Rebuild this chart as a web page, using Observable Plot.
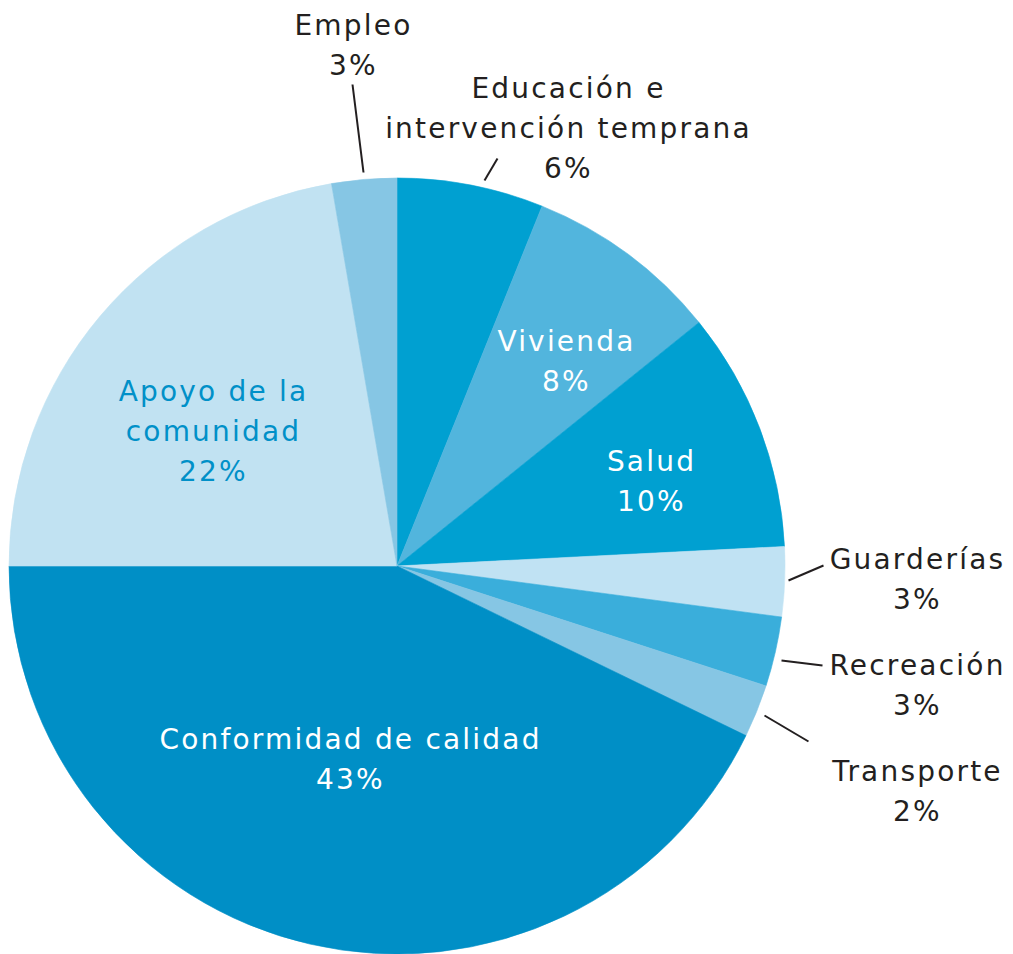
<!DOCTYPE html>
<html>
<head>
<meta charset="utf-8">
<script src="https://cdn.jsdelivr.net/npm/d3@7"></script>
<script src="https://cdn.jsdelivr.net/npm/@observablehq/plot@0.6"></script>
<style>
  html, body { margin: 0; padding: 0; background: #fff; }
  #chart svg { display: block; }
  #chart text { letter-spacing: 2.2px; }
</style>
</head>
<body>
<div id="chart"></div>
<script>
// ---- data ----
const categories = ["Educación e intervención temprana", "Vivienda", "Salud", "Guarderías", "Recreación", "Transporte", "Conformidad de calidad", "Apoyo de la comunidad", "Empleo"];
const displayNames = ["Educación e\nintervención temprana", "Vivienda", "Salud", "Guarderías", "Recreación", "Transporte", "Conformidad de calidad", "Apoyo de la\ncomunidad", "Empleo"];
const shares = [6.1, 8.1, 10.0, 2.9, 2.9, 2.2, 42.8, 22.3, 2.7];
const shareLabels = ["6%", "8%", "10%", "3%", "3%", "2%", "43%", "22%", "3%"];

// ---- styles / layout ----
const sliceColors = ["#00a0d1", "#52b5dd", "#00a0d1", "#c0e2f3", "#3aaedb", "#86c6e4", "#008fc6", "#c1e2f2", "#86c6e4"];
const labelColors = ["#231f20", "#ffffff", "#ffffff", "#231f20", "#231f20", "#231f20", "#ffffff", "#0090c8", "#231f20"];
const outside = [true, false, false, true, true, true, false, false, true];
// label block centres, offsets from the pie centre (px)
const labelDX = [171, 169, 254, 520, 520, 520, -47, -184, -44];
const labelDY = [-441, -208, -88, 10, 116, 222, 190, -138, -524];
// leader line ends, offsets from the pie centre (px)
const leadStartDX = [87, null, null, 391, 384, 367, null, null, -34];
const leadStartDY = [-386, null, null, 14, 94, 149, null, null, -394];
const leadEndDX = [100, null, null, 426, 425, 411, null, null, -45];
const leadEndDY = [-408, null, null, -1, 99, 175, null, null, -482];

const W = 1013, H = 954;
const CX = 397, CY = 566, R = 388;

const arcs = d3.pie().sort(null).value(d => d)(shares);

const rows = categories.map((c, i) => ({
  category: c,
  label: displayNames[i] + "\n" + shareLabels[i],
  color: labelColors[i],
  lx: labelDX[i], ly: labelDY[i],
  sx: leadStartDX[i], sy: leadStartDY[i],
  ex: leadEndDX[i], ey: leadEndDY[i],
  outside: outside[i]
}));

function pieMark(index, scales) {
  const cx = scales.x(0), cy = scales.y(0);
  const r = scales.x(R) - scales.x(0);
  const arc = d3.arc().innerRadius(0).outerRadius(r);
  const g = d3.create("svg:g").attr("transform", `translate(${cx},${cy})`);
  g.selectAll("path").data(arcs).join("path")
    .attr("d", arc)
    .attr("fill", (d, i) => sliceColors[i])
    .attr("stroke", (d, i) => sliceColors[i])
    .attr("stroke-width", 0.6);
  return g.node();
}

const chart = Plot.plot({
  width: W,
  height: H,
  margin: 0,
  style: { background: "#fff", fontFamily: "'DejaVu Sans', sans-serif" },
  x: { domain: [-CX, W - CX], range: [0, W], axis: null },
  y: { domain: [-CY, H - CY], range: [0, H], axis: null },
  marks: [
    pieMark,
    Plot.link(rows.filter(d => d.outside), {
      x1: "sx", y1: "sy", x2: "ex", y2: "ey",
      stroke: "#231f20", strokeWidth: 2
    }),
    Plot.text(rows, {
      x: "lx", y: "ly", text: "label",
      fill: d => d.color,
      fontSize: 28,
      lineHeight: 1.42,
      textAnchor: "middle",
      lineAnchor: "middle"
    })
  ]
});

document.getElementById("chart").appendChild(chart);
</script>
</body>
</html>
